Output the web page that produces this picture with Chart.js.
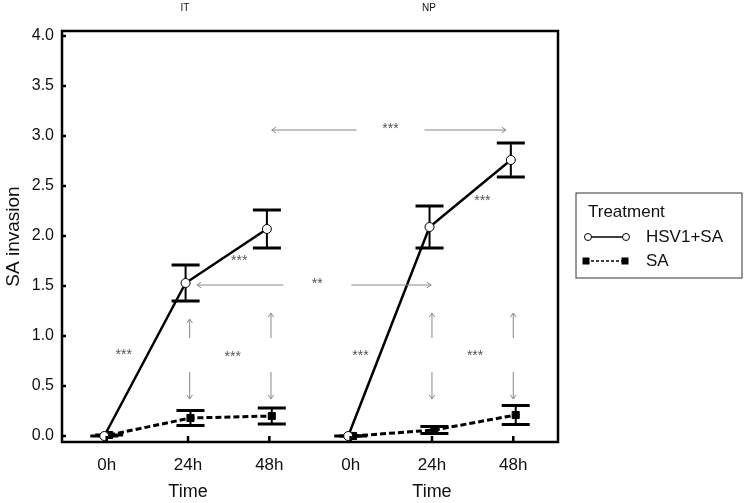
<!DOCTYPE html>
<html>
<head>
<meta charset="utf-8">
<script src="https://cdn.jsdelivr.net/npm/chart.js@4.4.1/dist/chart.umd.min.js"></script>
<style>
  html, body { margin: 0; padding: 0; background: #fff; }
  #wrap { width: 747px; height: 503px; }
</style>
</head>
<body>
<div id="wrap"><canvas id="chart"></canvas></div>
<script>
// Data
const timeLabels = ['0h', '24h', '48h', '0h', '24h', '48h'];
const siteLabels = ['IT', 'NP'];
const yTicks = [0, 0.5, 1, 1.5, 2, 2.5, 3, 3.5, 4];

const hsvMean = [0.00, 1.53, 2.07, 0.00, 2.09, 2.76];
const hsvErr  = [0.00, 0.18, 0.19, 0.00, 0.21, 0.17];
const saMean  = [0.01, 0.18, 0.20, 0.00, 0.06, 0.21];
const saErr   = [0.00, 0.075, 0.08, 0.00, 0.035, 0.095];

// significance annotations, in data units (x = category index, y = value)
const hArrows = [
    { from: 2.03, to: 4.91, y: 3.06, mid: 3.49, label: '***' },
    { from: 1.11, to: 3.99, y: 1.51, mid: 2.59, label: '**' }
];
const vArrows = [
    { x: 1.02, top: 1.17, bottom: 0.37, mid: 0.81 },
    { x: 2.02, top: 1.23, bottom: 0.37, mid: 0.81 },
    { x: 4.00, top: 1.23, bottom: 0.37, mid: 0.81 },
    { x: 5.00, top: 1.23, bottom: 0.37, mid: 0.81 }
];
const stars = [
    { x: 0.21, y: 0.83, label: '***' },
    { x: 1.55, y: 0.81, label: '***' },
    { x: 3.12, y: 0.82, label: '***' },
    { x: 4.53, y: 0.82, label: '***' },
    { x: 1.63, y: 1.77, label: '***' },
    { x: 4.62, y: 2.37, label: '***' }
];

const FONT = '"Liberation Sans", Arial, sans-serif';
const dodge = 0.03;

function groupPoints(means, group, shift) {
    const pts = [];
    for (let i = group * 3; i < group * 3 + 3; i++) {
        pts.push({ x: i + shift, y: means[i] });
    }
    return pts;
}

const hsvStyle = {
    borderColor: '#000', borderWidth: 2.5, pointStyle: 'circle', pointRadius: 4.5,
    pointBackgroundColor: '#fff', pointBorderColor: '#000', pointBorderWidth: 1,
    tension: 0, fill: false
};
const saStyle = {
    borderColor: '#000', borderWidth: 3, borderDash: [6, 3], pointStyle: 'rect', pointRadius: 5,
    pointBackgroundColor: '#000', pointBorderColor: '#000', pointBorderWidth: 1,
    tension: 0, fill: false
};

const datasets = [];
siteLabels.forEach((site, g) => {
    datasets.push(Object.assign({ label: 'HSV1+SA', data: groupPoints(hsvMean, g, -dodge),
        err: hsvErr, means: hsvMean, shift: -dodge, group: g }, hsvStyle));
    datasets.push(Object.assign({ label: 'SA', data: groupPoints(saMean, g, dodge),
        err: saErr, means: saMean, shift: dodge, group: g }, saStyle));
});

function arrowHead(ctx, x, y, ang) {
    const len = 5, spread = 0.6;
    ctx.beginPath();
    ctx.moveTo(x - len * Math.cos(ang - spread), y - len * Math.sin(ang - spread));
    ctx.lineTo(x, y);
    ctx.lineTo(x - len * Math.cos(ang + spread), y - len * Math.sin(ang + spread));
    ctx.stroke();
}
function arrow(ctx, x1, y1, x2, y2) {
    ctx.beginPath();
    ctx.moveTo(x1, y1);
    ctx.lineTo(x2, y2);
    ctx.stroke();
    arrowHead(ctx, x2, y2, Math.atan2(y2 - y1, x2 - x1));
}

const figurePlugin = {
    id: 'figure',
    beforeDatasetsDraw(chart) {
        const ctx = chart.ctx, xs = chart.scales.x, ys = chart.scales.y;
        ctx.save();
        ctx.strokeStyle = '#000';
        chart.data.datasets.forEach(ds => {
            for (let i = ds.group * 3; i < ds.group * 3 + 3; i++) {
                const px = xs.getPixelForValue(i + ds.shift);
                const top = ys.getPixelForValue(ds.means[i] + ds.err[i]);
                const bot = ys.getPixelForValue(ds.means[i] - ds.err[i]);
                ctx.lineWidth = 2;
                ctx.beginPath();
                ctx.moveTo(px, top); ctx.lineTo(px, bot);
                ctx.stroke();
                ctx.lineWidth = 3;
                ctx.beginPath();
                ctx.moveTo(px - 14, top); ctx.lineTo(px + 14, top);
                ctx.moveTo(px - 14, bot); ctx.lineTo(px + 14, bot);
                ctx.stroke();
            }
        });
        ctx.restore();
    },
    afterDraw(chart) {
        const ctx = chart.ctx, xs = chart.scales.x, ys = chart.scales.y, a = chart.chartArea;
        ctx.save();

        // frame and inward ticks
        ctx.strokeStyle = '#000';
        ctx.lineWidth = 2.5;
        ctx.strokeRect(a.left, a.top, a.right - a.left, a.bottom - a.top);
        ctx.beginPath();
        yTicks.forEach(v => {
            const py = ys.getPixelForValue(v);
            ctx.moveTo(a.left, py); ctx.lineTo(a.left + 4, py);
        });
        timeLabels.forEach((t, i) => {
            const px = xs.getPixelForValue(i);
            ctx.moveTo(px, a.bottom); ctx.lineTo(px, a.bottom - 6);
        });
        ctx.stroke();

        // group titles
        ctx.fillStyle = '#111';
        ctx.textAlign = 'center';
        ctx.textBaseline = 'middle';
        ctx.font = '18px ' + FONT;
        siteLabels.forEach((s, g) => {
            ctx.fillText('Time', xs.getPixelForValue(g * 3 + 1), 492);
        });
        ctx.font = '10px ' + FONT;
        siteLabels.forEach((s, g) => {
            ctx.fillText(s, xs.getPixelForValue(g * 3 + 1) - 3, 8);
        });

        // annotations
        ctx.strokeStyle = '#888';
        ctx.lineWidth = 1;
        ctx.fillStyle = '#555';
        ctx.font = '14px ' + FONT;
        hArrows.forEach(h => {
            const py = ys.getPixelForValue(h.y);
            const pm = xs.getPixelForValue(h.mid);
            arrow(ctx, pm - 34, py, xs.getPixelForValue(h.from), py);
            arrow(ctx, pm + 34, py, xs.getPixelForValue(h.to), py);
            ctx.fillText(h.label, pm, py - 1);
        });
        vArrows.forEach(v => {
            const px = xs.getPixelForValue(v.x);
            const pm = ys.getPixelForValue(v.mid);
            arrow(ctx, px, pm - 17, px, ys.getPixelForValue(v.top));
            arrow(ctx, px, pm + 17, px, ys.getPixelForValue(v.bottom));
        });
        stars.forEach(s => {
            ctx.fillText(s.label, xs.getPixelForValue(s.x), ys.getPixelForValue(s.y) + 2);
        });

        // legend
        const lx = 576, ly = 193, lw = 166, lh = 85;
        ctx.strokeStyle = '#333';
        ctx.lineWidth = 1;
        ctx.strokeRect(lx, ly, lw, lh);
        ctx.fillStyle = '#111';
        ctx.textAlign = 'left';
        ctx.font = '17px ' + FONT;
        ctx.fillText('Treatment', 588, 212);
        ctx.fillText('HSV1+SA', 646, 237);
        ctx.fillText('SA', 646, 261);

        ctx.strokeStyle = '#000';
        ctx.lineWidth = 1.5;
        ctx.beginPath();
        ctx.moveTo(588, 237); ctx.lineTo(626, 237);
        ctx.stroke();
        [588, 626].forEach(cx => {
            ctx.beginPath();
            ctx.arc(cx, 237, 3.5, 0, Math.PI * 2);
            ctx.fillStyle = '#fff';
            ctx.fill();
            ctx.lineWidth = 1;
            ctx.stroke();
        });
        ctx.setLineDash([3, 2]);
        ctx.lineWidth = 1.5;
        ctx.beginPath();
        ctx.moveTo(586, 261); ctx.lineTo(625, 261);
        ctx.stroke();
        ctx.setLineDash([]);
        ctx.fillStyle = '#000';
        [586, 625].forEach(cx => ctx.fillRect(cx - 3.5, 257.5, 7, 7));

        ctx.restore();
    }
};

new Chart(document.getElementById('chart').getContext('2d'), {
    type: 'line',
    data: { datasets: datasets },
    options: {
        responsive: true,
        maintainAspectRatio: false,
        animation: false,
        layout: { padding: { left: 0, top: 31, right: 189, bottom: 0 } },
        scales: {
            x: {
                type: 'linear',
                min: -0.55,
                max: 5.55,
                grid: { display: false, drawTicks: false },
                border: { display: false },
                afterBuildTicks: scale => { scale.ticks = timeLabels.map((t, i) => ({ value: i })); },
                afterFit: scale => { scale.height = 61; },
                ticks: {
                    padding: 13,
                    color: '#111',
                    font: { family: FONT, size: 17 },
                    maxRotation: 0,
                    callback: v => timeLabels[v]
                }
            },
            y: {
                min: -0.06,
                max: 4.05,
                grid: { display: false, drawTicks: false },
                border: { display: false },
                afterBuildTicks: scale => { scale.ticks = yTicks.map(v => ({ value: v })); },
                afterFit: scale => { scale.width = 62; },
                ticks: {
                    padding: 8,
                    color: '#111',
                    font: { family: FONT, size: 16 },
                    callback: v => v.toFixed(1)
                },
                title: {
                    display: true,
                    text: 'SA invasion',
                    color: '#111',
                    font: { family: FONT, size: 19 },
                    padding: { top: 2, bottom: 0 }
                }
            }
        },
        plugins: {
            legend: { display: false },
            tooltip: { enabled: false }
        }
    },
    plugins: [figurePlugin]
});
</script>
</body>
</html>
